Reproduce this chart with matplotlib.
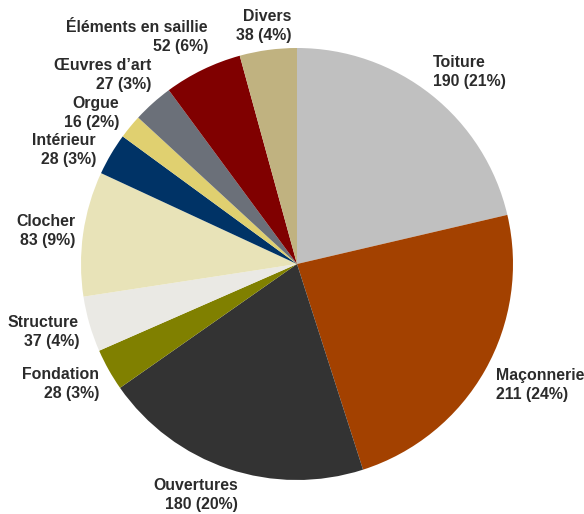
import matplotlib
matplotlib.use("Agg")
import matplotlib.pyplot as plt

categories = ["Toiture", "Maçonnerie", "Ouvertures", "Fondation", "Structure",
              "Clocher", "Intérieur", "Orgue", "Œuvres d’art",
              "Éléments en saillie", "Divers"]
values = [190, 211, 180, 28, 37, 83, 28, 16, 27, 52, 38]
colors = ["#c0c0c0", "#a34100", "#333333", "#808000", "#eae9e4",
          "#e8e3b8", "#003366", "#e0d070", "#6b7079", "#800000", "#c0b280"]

# label layout (pixel positions: anchor x, block center y, alignment)
label_pos = [(433, 72, "left"), (496, 385, "left"), (238, 495, "right"),
             (99, 384, "right"), (79, 332, "right"), (75, 231, "right"),
             (96, 150, "right"), (119, 113, "right"), (151, 75, "right"),
             (208, 37, "right"), (291, 26, "right")]

W, H = 584, 514
fig = plt.figure(figsize=(W / 100, H / 100), dpi=100)
cx, cy, r = 297, 264, 216
ax = fig.add_axes([(cx - r) / W, (H - cy - r) / H, 2 * r / W, 2 * r / H])
ax.pie(values, colors=colors, startangle=90, counterclock=False, radius=1,
       wedgeprops=dict(linewidth=0))
ax.set_xlim(-1, 1)
ax.set_ylim(-1, 1)
ax.set_aspect("equal")
ax.axis("off")

total = sum(values)
for cat, v, (px, py, ha) in zip(categories, values, label_pos):
    pct = round(100 * v / total)
    fig.text(px / W, 1 - py / H, f"{cat}\n{v} ({pct}%)", ha=ha, va="center",
             multialignment=ha, fontsize=11.4, fontweight="bold",
             family=["Liberation Sans", "DejaVu Sans"], color="#2b2b2b",
             linespacing=1.33)

fig.savefig("out.png", dpi=100)
